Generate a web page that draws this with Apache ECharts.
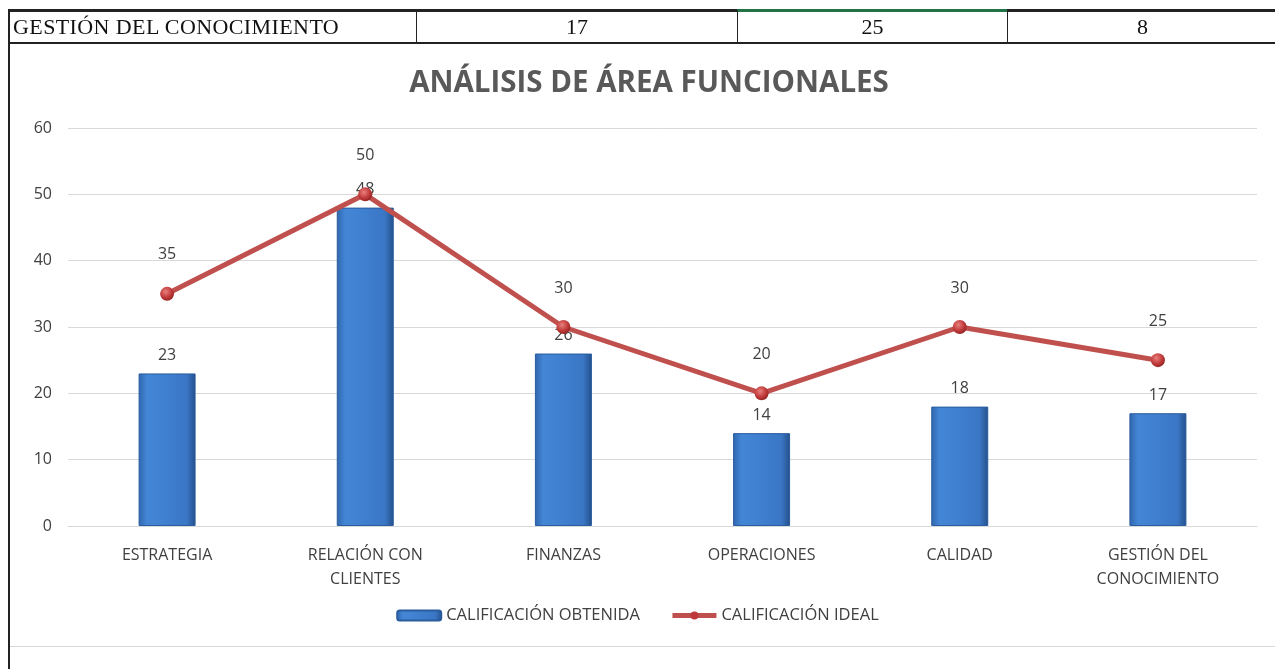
<!DOCTYPE html>
<html>
<head>
<meta charset="utf-8">
<script src="https://cdn.jsdelivr.net/npm/echarts@6/dist/echarts.min.js"></script>
<style>
  html, body { margin: 0; padding: 0; background: #fff; }
  #wrap { position: relative; width: 1275px; height: 669px; overflow: hidden; }
  #chart { position: absolute; left: 0; top: 0; width: 1275px; height: 669px; }
  .fila { position: absolute; left: 8px; top: 9px; width: 1275px; height: 35px;
          border-top: 3px solid #222; border-bottom: 2px solid #222; box-sizing: border-box;
          font-family: "Liberation Serif", "DejaVu Serif", serif; font-size: 22px; color: #111; }
  .celda { position: absolute; top: 0; height: 30px; line-height: 30px; box-sizing: border-box;
           border-left: 1px solid #222; }
  .borde-izq { position: absolute; left: 8px; top: 9px; width: 2px; height: 660px; background: #222; }
  .borde-inf { position: absolute; left: 10px; top: 646px; width: 1265px; height: 1px; background: #d9d9d9; }
</style>
</head>
<body>
<div id="wrap">
  <div id="chart"></div>
  <div class="borde-izq"></div>
  <div class="borde-inf"></div>
  <div class="fila">
    <div class="celda" style="left:0;width:408px;padding-left:5px;border-left:none;letter-spacing:0.4px;">GESTIÓN DEL CONOCIMIENTO</div>
    <div class="celda" style="left:408px;width:321px;text-align:center;">17</div>
    <div class="celda" style="left:729px;width:270px;text-align:center;border-top:3px solid #217346;top:-3px;height:33px;line-height:30px;">25</div>
    <div class="celda" style="left:999px;width:270px;text-align:center;">8</div>
  </div>
</div>
<script>
/*datos del gráfico*/
var areas = ['ESTRATEGIA', 'RELACIÓN CON\nCLIENTES', 'FINANZAS', 'OPERACIONES', 'CALIDAD', 'GESTIÓN DEL\nCONOCIMIENTO'];
var obtenida = [23, 48, 26, 14, 18, 17];
var ideal = [35, 50, 30, 20, 30, 25];
var ticks = [0, 10, 20, 30, 40, 50, 60];

var grafico = echarts.init(document.getElementById('chart'));
var fuente = '"Open Sans", "Noto Sans", sans-serif';
var opcion = {
    animation: false,
    title: {
        text: 'ANÁLISIS DE ÁREA FUNCIONALES',
        left: 644,
        top: 64,
        textAlign: 'center',
        textStyle: { fontFamily: fuente, fontSize: 29.5, fontWeight: 'bold', color: '#595959' }
    },
    legend: {
        bottom: 40,
        left: 'center',
        itemGap: 30,
        itemWidth: 44,
        itemHeight: 10,
        textStyle: { fontFamily: fuente, fontSize: 16.5, color: '#404040' },
        data: [
            { name: 'CALIFICACIÓN OBTENIDA' },
            { name: 'CALIFICACIÓN IDEAL', itemStyle: { color: '#c0393a' }, lineStyle: { width: 5, color: '#c0504d' } }
        ]
    },
    grid: { left: 68, right: 18, top: 128, bottom: 143, containLabel: false },
    xAxis: {
        type: 'category',
        data: areas,
        axisTick: { show: false },
        axisLine: { lineStyle: { color: '#d9d9d9' } },
        axisLabel: { fontFamily: fuente, fontSize: 16, color: '#404040', margin: 17, lineHeight: 24, interval: 0 }
    },
    yAxis: {
        type: 'value',
        min: ticks[0],
        max: ticks[ticks.length - 1],
        interval: 10,
        axisLine: { show: false },
        axisTick: { show: false },
        splitLine: { lineStyle: { color: '#d9d9d9', width: 1 } },
        axisLabel: { fontFamily: fuente, fontSize: 16, color: '#404040', margin: 16 }
    },
    series: [
        {
            name: 'CALIFICACIÓN OBTENIDA',
            type: 'bar',
            barWidth: 57,
            data: obtenida,
            itemStyle: {
                color: new echarts.graphic.LinearGradient(0, 0, 1, 0, [
                    { offset: 0, color: '#2f66ad' },
                    { offset: 0.15, color: '#4486d6' },
                    { offset: 0.5, color: '#3f7fcf' },
                    { offset: 0.85, color: '#3a76c4' },
                    { offset: 1, color: '#244f8a' }
                ]),
                borderColor: '#2a5c9e',
                borderWidth: 1
            },
            label: { show: true, position: 'top', distance: 10, fontFamily: fuente, fontSize: 16, color: '#404040' }
        },
        {
            name: 'CALIFICACIÓN IDEAL',
            type: 'line',
            data: ideal,
            symbol: 'circle',
            symbolSize: 14,
            z: 3,
            lineStyle: { color: '#c0504d', width: 5 },
            itemStyle: {
                color: new echarts.graphic.RadialGradient(0.4, 0.35, 0.7, [
                    { offset: 0, color: '#e8807c' },
                    { offset: 0.6, color: '#c0393a' },
                    { offset: 1, color: '#8e2220' }
                ]),
                borderWidth: 0
            },
            label: { show: true, position: 'top', distance: 24, fontFamily: fuente, fontSize: 16, color: '#404040' }
        }
    ]
};
grafico.setOption(opcion);
</script>
</body>
</html>
